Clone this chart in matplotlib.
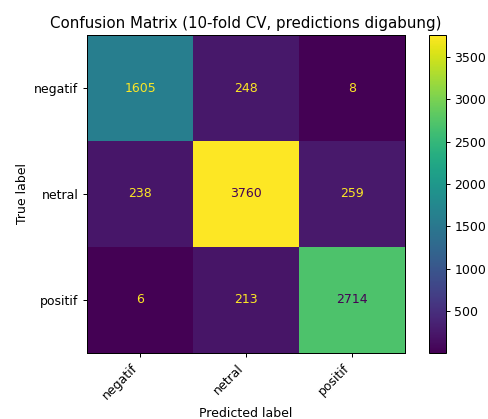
import numpy as np
import matplotlib.pyplot as plt

labels = ['negatif', 'netral', 'positif']
cm = np.array([
    [1605, 248, 8],
    [238, 3760, 259],
    [6, 213, 2714],
])

# drawn at a slightly smaller scale, like the reference
fig = plt.figure(figsize=(488 / 90, 419 / 90), dpi=90)
ax = fig.add_axes([0.178, 0.158, 0.652, 0.758])
cax = fig.add_axes([0.880, 0.158, 0.033, 0.758])

cmap = plt.get_cmap('viridis')
im = ax.imshow(cm, interpolation='nearest', cmap=cmap)
fig.colorbar(im, cax=cax)

thresh = (cm.max() + cm.min()) / 2.0
for i in range(cm.shape[0]):
    for j in range(cm.shape[1]):
        color = cmap(0) if cm[i, j] >= thresh else cmap(1.0)
        ax.text(j, i, str(cm[i, j]), ha='center', va='center', color=color)

ax.set_xticks(np.arange(len(labels)))
ax.set_yticks(np.arange(len(labels)))
ax.set_xticklabels(labels, rotation=45, ha='right')
ax.set_yticklabels(labels)
ax.set_xlabel('Predicted label')
ax.set_ylabel('True label')
ax.set_title('Confusion Matrix (10-fold CV, predictions digabung)')

fig.savefig('out.png', dpi=90)
